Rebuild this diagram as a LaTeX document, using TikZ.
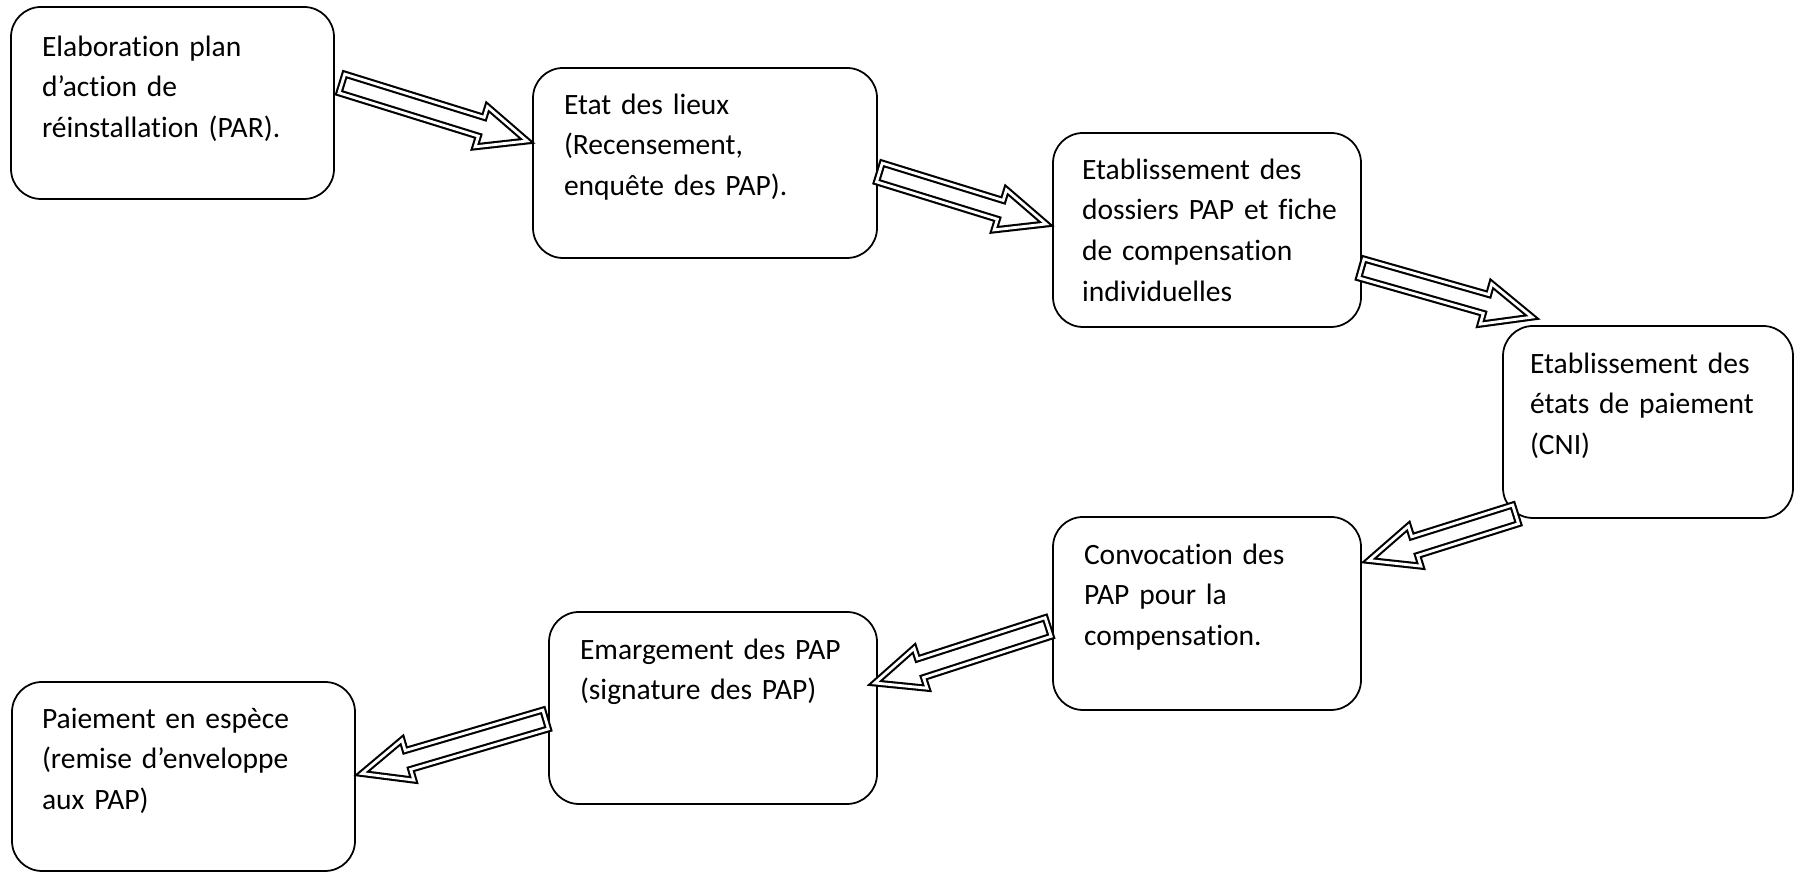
\documentclass[tikz,border=0pt]{standalone}
\usepackage{fontspec}
\setmainfont{Carlito}[Ligatures=NoCommon]
\usetikzlibrary{calc}
\tikzset{
  every picture/.style={line width=0.5pt},
  stage/.style={draw,rectangle,rounded corners=3mm,minimum height=19.2mm},
  stagetxt/.style={anchor=base west,align=left,text width=30mm,inner sep=0,font=\fontsize{8.4}{11.6}\selectfont},
  hollow/.style={draw,fill=white,double,double distance=0.8pt,line width=0.6pt,line join=miter},
}
% block arrow from #1 to #2 (double outline)
\newcommand{\fat}[2]{
  \draw[hollow] let \p1=($(#2)-(#1)$), \n1={atan2(\y1,\x1)} in
    ($(#1)+(\n1+90:0.098)$) -- ($(#2)+(\n1+180:0.48)+(\n1+90:0.098)$)
    -- ($(#2)+(\n1+180:0.48)+(\n1+90:0.21)$) -- (#2)
    -- ($(#2)+(\n1+180:0.48)+(\n1-90:0.21)$)
    -- ($(#2)+(\n1+180:0.48)+(\n1-90:0.098)$)
    -- ($(#1)+(\n1-90:0.098)$) -- cycle;}

\begin{document}
\begin{tikzpicture}[x=1cm,y=1cm]
\useasboundingbox (0,0) rectangle (17.95,8.72);
% stages
\node[stage,minimum width=32.3mm] (b1) at (1.725,7.69) {};
\node[stage,minimum width=34.4mm,minimum height=19mm] (b2) at (7.05,7.09) {};
\node[stage,minimum width=30.8mm,minimum height=19.4mm] (b3) at (12.07,6.42) {};
\node[stage,minimum width=29mm] (b4) at (16.48,4.50) {};
\node[stage,minimum width=30.8mm,minimum height=19.3mm] (b5) at (12.07,2.585) {};
\node[stage,minimum width=32.8mm] (b6) at (7.13,1.64) {};
\node[stage,minimum width=34.3mm,minimum height=18.9mm] (b7) at (1.835,0.955) {};
% texts
\node[stagetxt] (t1) at ([shift={(0.31,-0.50)}]b1.north west) {Elaboration plan\\d’action de\\réinstallation (PAR).};
\node[stagetxt] (t2) at ([shift={(0.31,-0.47)}]b2.north west) {Etat des lieux\\(Recensement,\\enquête des PAP).};
\node[stagetxt] (t3) at ([shift={(0.29,-0.47)}]b3.north west) {Etablissement des\\dossiers PAP et fiche\\de compensation\\individuelles};
\node[stagetxt] (t4) at ([shift={(0.27,-0.48)}]b4.north west) {Etablissement des\\états de paiement\\(CNI)};
\node[stagetxt] (t5) at ([shift={(0.31,-0.48)}]b5.north west) {Convocation des\\PAP pour la\\compensation.};
\node[stagetxt] (t6) at ([shift={(0.31,-0.48)}]b6.north west) {Emargement des PAP\\(signature des PAP)};
\node[stagetxt] (t7) at ([shift={(0.30,-0.47)}]b7.north west) {Paiement en espèce\\(remise d’enveloppe\\aux PAP)};
% arrow ends
\coordinate (s1) at ($(b1.east)+(0.07,0.195)$);
\coordinate (e1) at ($(b2.west)+(-0.05,0.22)$);
\coordinate (s2) at ($(b2.east)+(0.015,-0.095)$);
\coordinate (e2) at ($(b3.west)+(-0.06,0.06)$);
\coordinate (s3) at ($(b3.east)+(-0.005,-0.385)$);
\coordinate (e3) at ($(b4.north west)+(0.30,0.08)$);
\coordinate (s4) at ($(b4.south west)+(0.135,0.045)$);
\coordinate (e4) at ($(b5.east)+(0.07,0.53)$);
\coordinate (s5) at ($(b5.west)+(-0.04,-0.135)$);
\coordinate (e5) at ($(b6.east)+(-0.03,0.25)$);
\coordinate (s6) at ($(b6.west)+(-0.025,-0.115)$);
\coordinate (e6) at ($(b7.east)+(0.06,0.03)$);
% flow
\fat{s1}{e1} \fat{s2}{e2} \fat{s3}{e3}
\fat{s4}{e4} \fat{s5}{e5} \fat{s6}{e6}
\end{tikzpicture}
\end{document}
